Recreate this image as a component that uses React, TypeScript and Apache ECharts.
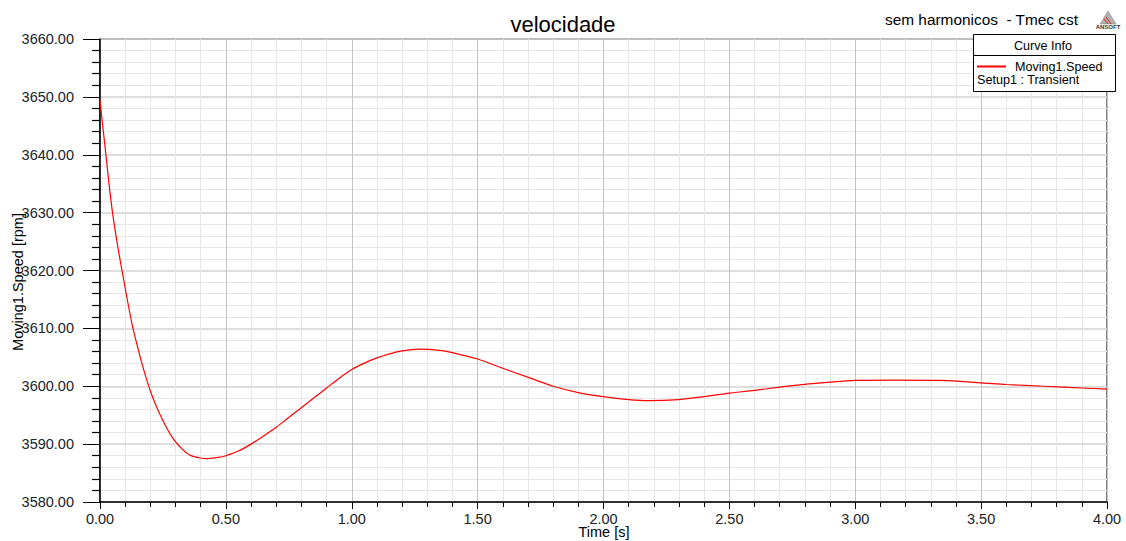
import React, { useEffect, useRef } from "react";
import * as echarts from "echarts";

const timeValues = [
  0, 0.01, 0.02, 0.035, 0.05, 0.07, 0.087, 0.11, 0.13, 0.16, 0.185, 0.21, 0.234, 0.27, 0.298, 0.33, 0.357,
  0.4, 0.43, 0.47, 0.5, 0.55, 0.6, 0.65, 0.7, 0.75, 0.8, 0.85, 0.9, 0.95, 1.0, 1.05, 1.1, 1.15, 1.2, 1.27,
  1.35, 1.4, 1.5, 1.6, 1.71, 1.8, 1.9, 2.0, 2.1, 2.18, 2.3, 2.4, 2.5, 2.6, 2.75, 2.9, 3.0, 3.15, 3.34, 3.5,
  3.6, 3.75, 3.9, 4.0,
];
const speedValues = [
  3649.5, 3645.3, 3641.4, 3635.3, 3629.9, 3624.3, 3620.1, 3614.6, 3610.2, 3605.0, 3601.2, 3598.0, 3595.5,
  3592.4, 3590.5, 3589.0, 3588.1, 3587.6, 3587.5, 3587.7, 3588.0, 3588.8, 3590.0, 3591.4, 3592.9, 3594.6,
  3596.3, 3598.0, 3599.7, 3601.4, 3602.9, 3604.0, 3604.9, 3605.6, 3606.1, 3606.4, 3606.2, 3605.8, 3604.7,
  3603.1, 3601.4, 3600.0, 3598.9, 3598.2, 3597.7, 3597.5, 3597.7, 3598.2, 3598.8, 3599.3, 3600.1, 3600.7,
  3601.0, 3601.05, 3601.0, 3600.6, 3600.3, 3600.0, 3599.7, 3599.5,
];

const chartTitle = "velocidade";
const subTitle = "sem harmonicos  - Tmec cst";
const seriesName = "Moving1.Speed";
const setupName = "Setup1 : Transient";
const xAxisName = "Time [s]";
const yAxisName = "Moving1.Speed [rpm]";

const FONT = "Liberation Sans, Arial, sans-serif";

export default function App() {
  const ref = useRef<HTMLDivElement>(null);
  useEffect(() => {
    document.body.style.margin = "0";
    const chart = echarts.init(ref.current!, null, { renderer: "svg" });
    const data = timeValues.map((t, i) => [t, speedValues[i]]);
    chart.setOption({
      animation: false,
      backgroundColor: "#fff",
      textStyle: { fontFamily: FONT },
      title: {
        text: chartTitle,
        left: "center",
        top: 8,
        textStyle: { fontFamily: FONT, fontSize: 22, fontWeight: "normal", color: "#000" },
      },
      grid: {
        left: 100,
        right: 19,
        top: 39,
        bottom: 39,
        show: true,
        borderColor: "#000",
        borderWidth: 1,
        backgroundColor: "transparent",
        outerBoundsMode: "none",
        containLabel: false,
      },
      legend: {
        show: true,
        left: 977,
        top: 60,
        z: 20,
        itemWidth: 29,
        itemHeight: 2,
        icon: "rect",
        itemGap: 0,
        data: [{ name: seriesName, icon: "rect" }],
        textStyle: { fontFamily: FONT, fontSize: 12.6, color: "#000", padding: [0, 0, 0, 4] },
        padding: 0,
      },
      xAxis: {
        type: "value",
        min: 0,
        max: 4,
        interval: 0.5,
        axisLine: { show: true, lineStyle: { color: "#000", width: 1.5 } },
        axisTick: { show: true, length: 7, lineStyle: { color: "#000" } },
        minorTick: { show: true, splitNumber: 5, length: 5, lineStyle: { color: "#000" } },
        axisLabel: {
          fontFamily: FONT,
          fontSize: 14.5,
          color: "#222",
          margin: 9,
          formatter: (v: number) => v.toFixed(2),
        },
        splitLine: { show: true, lineStyle: { color: "#c4c4c4", width: 1 } },
        minorSplitLine: { show: true, lineStyle: { color: "#e6e6e6", width: 1 } },
      },
      yAxis: {
        type: "value",
        min: 3580,
        max: 3660,
        interval: 10,
        axisLine: { show: true, lineStyle: { color: "#000", width: 1.5 } },
        axisTick: { show: true, length: 17, lineStyle: { color: "#000" } },
        minorTick: { show: true, splitNumber: 5, length: 8, lineStyle: { color: "#000", width: 1.2 } },
        axisLabel: {
          fontFamily: FONT,
          fontSize: 14.5,
          color: "#222",
          margin: 26,
          formatter: (v: number) => v.toFixed(2),
        },
        splitLine: { show: true, lineStyle: { color: "#d2d2d2", width: 1.5 } },
        minorSplitLine: { show: true, lineStyle: { color: "#e6e6e6", width: 1 } },
      },
      series: [
        {
          name: seriesName,
          type: "line",
          data,
          smooth: 0.3,
          showSymbol: false,
          symbol: "none",
          lineStyle: { color: "#ff0000", width: 1.2 },
          itemStyle: { color: "#ff0000" },
        },
      ],
      graphic: [
        {
          type: "text",
          x: 604,
          y: 532,
          style: { text: xAxisName, font: `14.5px ${FONT}`, fill: "#000", align: "center", verticalAlign: "middle" },
        },
        {
          type: "text",
          x: 18,
          y: 282,
          rotation: Math.PI / 2,
          style: { text: yAxisName, font: `14.5px ${FONT}`, fill: "#000", align: "center", verticalAlign: "middle" },
        },
        {
          type: "text",
          left: 885,
          top: 12,
          style: { text: subTitle, font: `15.4px ${FONT}`, fill: "#000" },
        },
        {
          type: "rect",
          shape: { x: 973.5, y: 34.5, width: 142, height: 57 },
          style: { fill: "#fff", stroke: "#000", lineWidth: 1 },
          z: 5,
        },
        {
          type: "line",
          shape: { x1: 973.5, y1: 55.5, x2: 1115.5, y2: 55.5 },
          style: { stroke: "#000", lineWidth: 1 },
          z: 6,
        },
        {
          type: "text",
          x: 1043,
          y: 45.5,
          style: { text: "Curve Info", font: `12.6px ${FONT}`, fill: "#000", align: "center", verticalAlign: "middle" },
          z: 6,
        },
        {
          type: "text",
          x: 977,
          y: 80,
          style: { text: setupName, font: `12.6px ${FONT}`, fill: "#000", verticalAlign: "middle" },
          z: 6,
        },
        {
          type: "polygon",
          shape: { points: [[1108, 11], [1100, 24], [1116, 24]] },
          style: { fill: "#b0b0b0", stroke: "#808080", lineWidth: 0.5 },
        },
        {
          type: "polyline",
          shape: { points: [[1106, 17], [1111, 24]] },
          style: { stroke: "#d02020", lineWidth: 1 },
        },
        {
          type: "polyline",
          shape: { points: [[1104, 19], [1108, 24]] },
          style: { stroke: "#d02020", lineWidth: 1 },
        },
        {
          type: "text",
          x: 1108,
          y: 27,
          style: { text: "ANSOFT", font: `bold 6px ${FONT}`, fill: "#333", align: "center", verticalAlign: "middle" },
        },
      ],
    });
    return () => chart.dispose();
  }, []);
  return <div ref={ref} style={{ width: 1126, height: 541 }} />;
}
